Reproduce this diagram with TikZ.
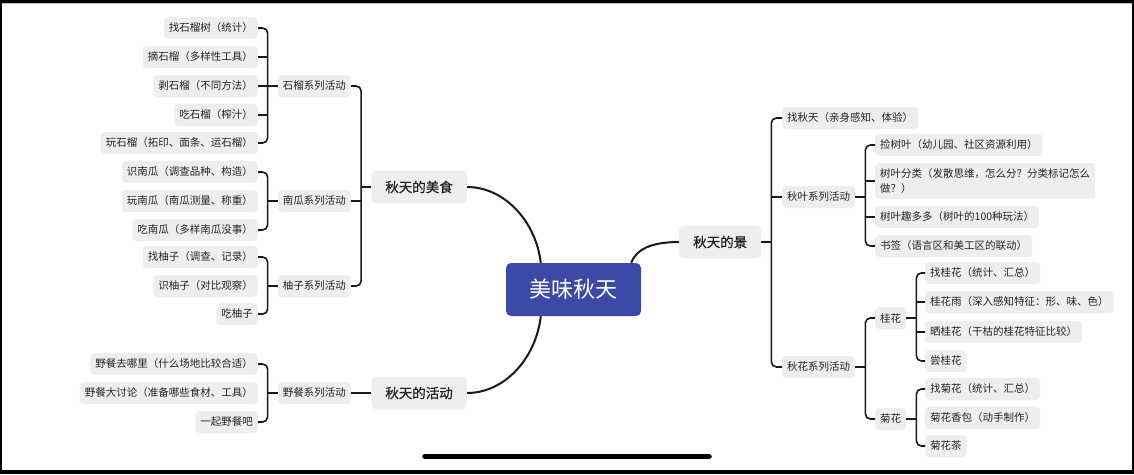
\documentclass[tikz,border=0pt]{standalone}
\usepackage{fontspec}
\setmainfont{Noto Sans CJK SC}
\newfontfamily\topicfont[FakeBold=0.6]{Noto Sans CJK SC}
\definecolor{boxgray}{RGB}{238,238,238}
\definecolor{txt}{RGB}{35,35,35}
\definecolor{rootblue}{RGB}{60,73,166}
\begin{document}
\begin{tikzpicture}[x=1pt,y=-1pt,
  leaf/.style={fill=boxgray, rounded corners=4pt, inner xsep=5pt, inner ysep=0pt, minimum height=22pt, text=txt, font=\fontsize{10.5}{15}\selectfont},
  topic/.style={fill=boxgray, rounded corners=5pt, inner xsep=14pt, inner ysep=0pt, minimum height=33pt, text=txt, font=\topicfont\fontsize{13.5}{16}\selectfont},
  rootbox/.style={fill=rootblue, rounded corners=5pt, minimum width=135pt, minimum height=53pt, inner sep=0pt, text=white, font=\fontsize{22}{26}\selectfont},
  br/.style={draw=black!90, line width=1.6pt, rounded corners=5pt},
  mainc/.style={draw=black!90, line width=2pt}]
\useasboundingbox (0,0) rectangle (1134,474);
% frame
\fill[black] (0,0) rectangle (1134,2.5);
\fill[black] (0,0) rectangle (2,474);
\fill[black] (1131.5,0) rectangle (1134,474);
\fill[black] (0,469.5) rectangle (1134,474);
\draw[black!25, line width=0.8pt] (2,3) -- (1131.5,3);
\draw[line width=5.5pt, line cap=round] (425,456.5) -- (709,456.5);

% root
\node[rootbox] (root) at (573.5,289.5) {美味秋天};
% topics
\node[topic, anchor=east] (food) at (467,187) {秋天的美食};
\node[topic, anchor=east] (act) at (467,393) {秋天的活动};
\node[topic, anchor=west] (scene) at (679,242) {秋天的景};

% left mids
\node[leaf, anchor=east] (shi) at (351,86) {石榴系列活动};
\node[leaf, anchor=east] (nan) at (351,201) {南瓜系列活动};
\node[leaf, anchor=east] (you) at (351,286) {柚子系列活动};
\node[leaf, anchor=east] (ye) at (351,393) {野餐系列活动};

% left leaves
\node[leaf, anchor=east] (s1) at (258,28) {找石榴树（统计）};
\node[leaf, anchor=east] (s2) at (258,57) {摘石榴（多样性工具）};
\node[leaf, anchor=east] (s3) at (258,86) {剥石榴（不同方法）};
\node[leaf, anchor=east] (s4) at (258,115) {吃石榴（榨汁）};
\node[leaf, anchor=east] (s5) at (258,143) {玩石榴（拓印、面条、运石榴）};
\node[leaf, anchor=east] (n1) at (258,172) {识南瓜（调查品种、构造）};
\node[leaf, anchor=east] (n2) at (258,201) {玩南瓜（南瓜测量、称重）};
\node[leaf, anchor=east] (n3) at (258,230) {吃南瓜（多样南瓜没事）};
\node[leaf, anchor=east] (y1) at (258,257) {找柚子（调查、记录）};
\node[leaf, anchor=east] (y2) at (258,286) {识柚子（对比观察）};
\node[leaf, anchor=east] (y3) at (258,314) {吃柚子};
\node[leaf, anchor=east] (c1) at (258,364) {野餐去哪里（什么场地比较合适）};
\node[leaf, anchor=east] (c2) at (258,393) {野餐大讨论（准备哪些食材、工具）};
\node[leaf, anchor=east] (c3) at (258,422) {一起野餐吧};

% right mids
\node[leaf, anchor=west] (zhao) at (782,118) {找秋天（亲身感知、体验）};
\node[leaf, anchor=west] (qy) at (782,197) {秋叶系列活动};
\node[leaf, anchor=west] (qh) at (782,367) {秋花系列活动};
\node[leaf, anchor=west] (gui) at (875,318) {桂花};
\node[leaf, anchor=west] (ju) at (875,419) {菊花};

% right leaves
\node[leaf, anchor=west] (l1) at (875,145) {捡树叶（幼儿园、社区资源利用）};
\node[leaf, anchor=west, minimum height=36pt, align=left] (l2) at (875,181) {树叶分类（发散思维，怎么分？分类标记怎么\\做？）};
\node[leaf, anchor=west] (l3) at (875,217) {树叶趣多多（树叶的100种玩法）};
\node[leaf, anchor=west] (l4) at (875,246) {书签（语言区和美工区的联动）};
\node[leaf, anchor=west] (g1) at (925,273) {找桂花（统计、汇总）};
\node[leaf, anchor=west] (g2) at (925,302) {桂花雨（深入感知特征：形、味、色）};
\node[leaf, anchor=west] (g3) at (925,332) {晒桂花（干枯的桂花特征比较）};
\node[leaf, anchor=west] (g4) at (925,361) {尝桂花};
\node[leaf, anchor=west] (j1) at (925,389) {找菊花（统计、汇总）};
\node[leaf, anchor=west] (j2) at (925,418) {菊花香包（动手制作）};
\node[leaf, anchor=west] (j3) at (925,446) {菊花茶};

% vertical positions
\coordinate (vfood) at ([xshift=-10pt]food.west);
\coordinate (vshi) at ([xshift=-10pt]shi.west);
\coordinate (vnan) at ([xshift=-10pt]nan.west);
\coordinate (vyou) at ([xshift=-10pt]you.west);
\coordinate (vye) at ([xshift=-10pt]ye.west);
\coordinate (vscene) at ([xshift=10pt]scene.east);
\coordinate (vqy) at ([xshift=10pt]qy.east);
\coordinate (vqh) at ([xshift=10pt]qh.east);
\coordinate (vgui) at ([xshift=10pt]gui.east);
\coordinate (vju) at ([xshift=10pt]ju.east);

% main curves
\draw[mainc] (food.east) .. controls (505,187) and (536,222) .. ([xshift=35pt]root.north west);
\draw[mainc] (act.east) .. controls (505,393) and (536,358) .. ([xshift=35pt]root.south west);
\draw[mainc] ([xshift=-10pt]root.north east) .. controls (636,250) and (650,242) .. (scene.west);

% food bracket
\draw[br] (shi.east) -| (vfood) |- (you.east);
\draw[br] (food.west) -- (vfood);
\draw[br] (nan.east) -- (nan.east -| vfood);
% shi
\draw[br] (s1.east) -| (vshi) |- (s5.east);
\draw[br] (shi.west) -- (vshi);
\draw[br] (s2.east) -- (s2.east -| vshi);
\draw[br] (s3.east) -- (s3.east -| vshi);
\draw[br] (s4.east) -- (s4.east -| vshi);
% nan
\draw[br] (n1.east) -| (vnan) |- (n3.east);
\draw[br] (nan.west) -- (vnan);
% you
\draw[br] (y1.east) -| (vyou) |- (y3.east);
\draw[br] (you.west) -- (vyou);
% ye
\draw[br] (c1.east) -| (vye) |- (c3.east);
\draw[br] (ye.west) -- (vye);
\draw[br] (act.west) -- (ye.east);

% scene bracket
\draw[br] (zhao.west) -| (vscene) |- (qh.west);
\draw[br] (scene.east) -- (vscene);
\draw[br] (qy.west) -- (qy.west -| vscene);
% qy
\draw[br] (l1.west) -| (vqy) |- (l4.west);
\draw[br] (qy.east) -- (vqy);
\draw[br] (l2.west) -- (l2.west -| vqy);
\draw[br] (l3.west) -- (l3.west -| vqy);
% qh
\draw[br] (gui.west) -| (vqh) |- (ju.west);
\draw[br] (qh.east) -- (vqh);
% gui
\draw[br] (g1.west) -| (vgui) |- (g4.west);
\draw[br] (gui.east) -- (vgui);
\draw[br] (g2.west) -- (g2.west -| vgui);
\draw[br] (g3.west) -- (g3.west -| vgui);
% ju
\draw[br] (j1.west) -| (vju) |- (j3.west);
\draw[br] (ju.east) -- (vju);
\end{tikzpicture}
\end{document}
